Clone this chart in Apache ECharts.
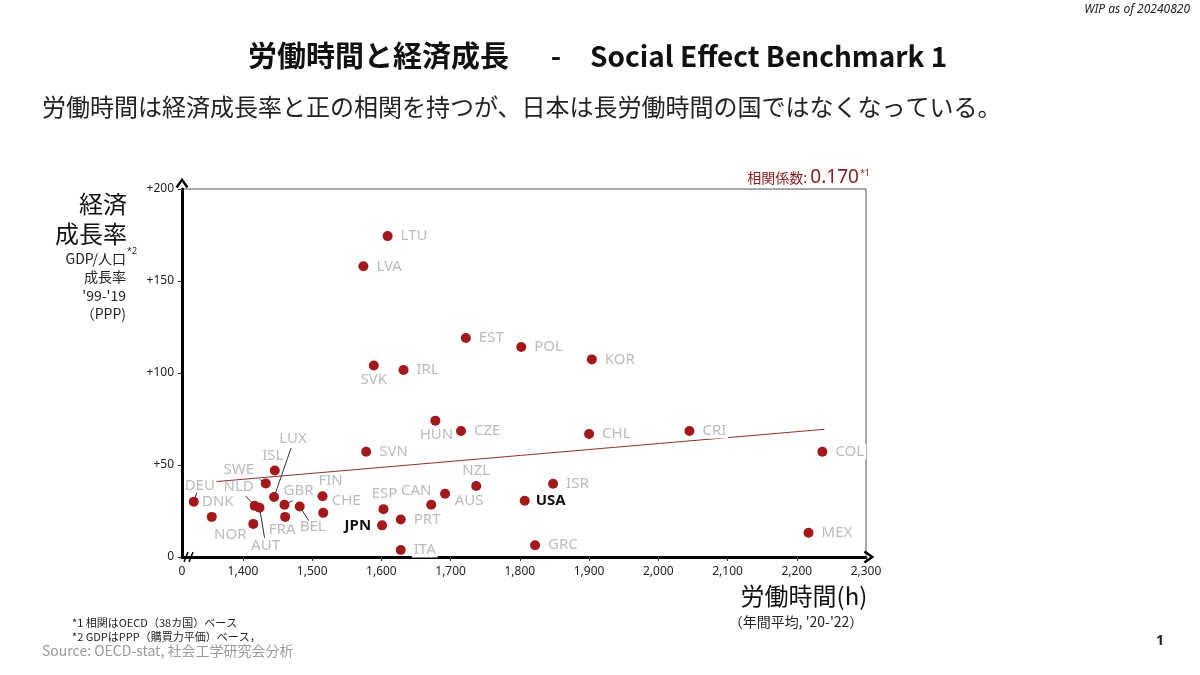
<!DOCTYPE html>
<html>
<head>
<meta charset="utf-8">
<script src="https://cdn.jsdelivr.net/npm/echarts@6.0.0/dist/echarts.min.js"></script>
<style>
  html, body { margin: 0; padding: 0; background: #fff; }
  #main { width: 1200px; height: 675px; }
</style>
</head>
<body>
<div id="main"></div>
<script>
// 国コード・労働時間(h)・経済成長率(%)
var codes  = ['DEU','DNK','NOR','NLD','AUT','SWE','ISL','LUX','GBR','FRA','BEL','FIN','CHE','SVN','ESP','JPN','PRT','ITA','HUN','CZE','CAN','AUS','NZL','USA','ISR','GRC','CHL','CRI','COL','MEX','LTU','LVA','EST','SVK','IRL','POL','KOR'];
var hours  = [1329,1355,1415,1417,1424,1433,1446,1445,1460,1461,1482,1515,1516,1578,1603,1601,1628,1628,1678,1715,1672,1692,1737,1807,1848,1822,1900,2045,2237,2217,1609,1574,1722,1589,1632,1802,1904];
var growth = [30,21.8,18,27.8,26.8,40,47,32.6,28.4,21.8,27.4,33,24,57.2,26,17.2,20.4,3.8,74.1,68.5,28.4,34.4,38.6,30.6,39.8,6.4,66.8,68.5,57.2,13.2,174.4,158,119,104.1,101.6,114.1,107.4];

// 回帰直線の両端
var trendHours  = [1362, 2240];
var trendGrowth = [41, 69.4];

// 軸目盛
var xTicks = [1312, 1400, 1500, 1600, 1700, 1800, 1900, 2000, 2100, 2200, 2300];
var yTicks = [0, 50, 100, 150, 200];

// ラベル位置（ドットからのずらし量）と引き出し線の先端
var labelPlace = {
    DEU: { off: [6, -16], lead: [3, -9] },
    DNK: { off: [6, -15] },
    NOR: { off: [-23, 11] },
    NLD: { off: [-16, -19], lead: [-9, -10] },
    AUT: { off: [6, 38], lead: [5, 30] },
    SWE: { off: [-27, -14], lead: [-6, -4] },
    ISL: { off: [-2, -15] },
    LUX: { off: [19, -58], lead: [17, -49] },
    GBR: { off: [14, -14], lead: [8, -4] },
    FRA: { off: [-3, 13] },
    BEL: { off: [13, 20], lead: [9, 14] },
    FIN: { off: [8, -16] },
    CHE: { off: [23, -12] },
    HUN: { off: [1, 14] },
    ESP: { off: [1, -15] },
    CAN: { off: [-15, -14] },
    AUS: { off: [24, 7] },
    NZL: { off: [0, -15] },
    SVK: { off: [0, 14] },
    JPN: { pos: 'left', bold: true },
    USA: { bold: true }
};

var LABEL_FONT = '"Noto Sans", "DejaVu Sans", sans-serif';
var JP_FONT = '"Noto Sans CJK JP", "Noto Sans", sans-serif';

var points = codes.map(function (c, i) {
    var p = labelPlace[c] || {};
    var label = {
        show: true,
        formatter: c,
        color: p.bold ? '#111' : '#bcbcbc',
        fontWeight: p.bold ? 'bold' : 'normal'
    };
    if (p.off) {
        label.position = 'inside';
        label.offset = p.off;
    } else {
        label.position = p.pos || 'right';
        if (!p.bold) {
            label.backgroundColor = '#fff';
            label.padding = [0, 2];
        }
    }
    return { value: [hours[i], growth[i]], label: label };
});

// 引き出し線を持つ点
var leaders = [];
codes.forEach(function (c, i) {
    if (labelPlace[c] && labelPlace[c].lead) leaders.push([hours[i], growth[i], i]);
});

function renderLeader(params, api) {
    var pt = api.coord([api.value(0), api.value(1)]);
    var lead = labelPlace[codes[api.value(2)]].lead;
    var len = Math.sqrt(lead[0] * lead[0] + lead[1] * lead[1]);
    var sx = pt[0] + lead[0] / len * 4;
    var sy = pt[1] + lead[1] / len * 4;
    return {
        type: 'line',
        shape: { x1: sx, y1: sy, x2: pt[0] + lead[0], y2: pt[1] + lead[1] },
        style: { stroke: '#333', lineWidth: 1 }
    };
}

var chart = echarts.init(document.getElementById('main'));

var option = {
    backgroundColor: '#fff',
    animation: false,
    grid: {
        left: 182,
        right: 334,
        top: 189,
        bottom: 118,
        show: true,
        borderColor: '#555',
        borderWidth: 1
    },
    xAxis: {
        type: 'value',
        min: 1312,
        max: 2300,
        splitLine: { show: false },
        axisLine: {
            show: true,
            lineStyle: { color: '#000', width: 3 },
            symbol: ['none', 'path://M5,0 L10,7 L8.4,8.2 L5,3.2 L1.6,8.2 L0,7 Z'],
            symbolSize: [13, 11],
            symbolOffset: [0, 3]
        },
        axisTick: {
            show: true,
            length: 4,
            lineStyle: { color: '#333' },
            customValues: xTicks.slice(1)
        },
        axisLabel: {
            customValues: xTicks,
            margin: 9,
            color: '#222',
            fontSize: 12,
            fontFamily: LABEL_FONT,
            formatter: function (v) {
                if (v < 1400) return '0';
                return v.toLocaleString('en-US');
            }
        }
    },
    yAxis: {
        type: 'value',
        min: 0,
        max: 200,
        interval: 50,
        splitLine: { show: false },
        axisLine: {
            show: true,
            lineStyle: { color: '#000', width: 3 },
            symbol: ['none', 'path://M5,0 L10,7 L8.4,8.2 L5,3.2 L1.6,8.2 L0,7 Z'],
            symbolSize: [13, 11],
            symbolOffset: [0, 6]
        },
        axisTick: { show: true, length: 4, lineStyle: { color: '#333' } },
        axisLabel: {
            margin: 8,
            color: '#222',
            fontSize: 12,
            fontFamily: LABEL_FONT,
            customValues: yTicks,
            formatter: function (v) { return v === 0 ? '0' : '+' + v; }
        }
    },
    series: [
        {
            type: 'line',
            data: trendHours.map(function (h, i) { return [h, trendGrowth[i]]; }),
            showSymbol: false,
            lineStyle: { color: '#8e3030', width: 1 },
            silent: true,
            z: 1
        },
        {
            type: 'custom',
            data: leaders,
            renderItem: renderLeader,
            silent: true,
            z: 2
        },
        {
            type: 'scatter',
            data: points,
            symbolSize: 10,
            itemStyle: { color: '#a3181b', opacity: 1 },
            label: {
                fontSize: 15,
                fontFamily: LABEL_FONT,
                distance: 6
            },
            z: 3
        }
    ],
    graphic: [
        {
            type: 'text', x: 1190, y: 10,
            style: { text: 'WIP as of 20240820', align: 'right', verticalAlign: 'middle',
                     fontSize: 12, fontStyle: 'italic', fontFamily: LABEL_FONT, fill: '#222' }
        },
        {
            type: 'text', x: 248, y: 56,
            style: { text: '労働時間と経済成長', align: 'left', verticalAlign: 'middle',
                     fontSize: 29, fontWeight: 'bold', fontFamily: JP_FONT, fill: '#111' }
        },
        {
            type: 'text', x: 556, y: 56,
            style: { text: '-', align: 'center', verticalAlign: 'middle',
                     fontSize: 28, fontWeight: 'bold', fontFamily: JP_FONT, fill: '#111' }
        },
        {
            type: 'text', x: 590, y: 56,
            style: { text: 'Social Effect Benchmark 1', align: 'left', verticalAlign: 'middle',
                     fontSize: 28, fontWeight: 'bold', fontFamily: JP_FONT, fill: '#111' }
        },
        {
            type: 'text', x: 42, y: 107,
            style: { text: '労働時間は経済成長率と正の相関を持つが、日本は長労働時間の国ではなくなっている。',
                     align: 'left', verticalAlign: 'middle',
                     fontSize: 24, fontFamily: JP_FONT, fill: '#222' }
        },
        // y軸の見出し
        {
            type: 'text', x: 127, y: 204,
            style: { text: '経済', align: 'right', verticalAlign: 'middle',
                     fontSize: 24, fontFamily: JP_FONT, fill: '#111' }
        },
        {
            type: 'text', x: 127, y: 234,
            style: { text: '成長率', align: 'right', verticalAlign: 'middle',
                     fontSize: 24, fontFamily: JP_FONT, fill: '#111' }
        },
        {
            type: 'text', x: 126, y: 259,
            style: { text: 'GDP/人口', align: 'right', verticalAlign: 'middle',
                     fontSize: 14, fontFamily: JP_FONT, fill: '#222' }
        },
        {
            type: 'text', x: 127, y: 251,
            style: { text: '*2', align: 'left', verticalAlign: 'middle',
                     fontSize: 9, fontFamily: LABEL_FONT, fill: '#222' }
        },
        {
            type: 'text', x: 126, y: 277,
            style: { text: '成長率', align: 'right', verticalAlign: 'middle',
                     fontSize: 14, fontFamily: JP_FONT, fill: '#222' }
        },
        {
            type: 'text', x: 126, y: 296,
            style: { text: "'99-'19", align: 'right', verticalAlign: 'middle',
                     fontSize: 14, fontFamily: JP_FONT, fill: '#222' }
        },
        {
            type: 'text', x: 126, y: 314,
            style: { text: '（PPP)', align: 'right', verticalAlign: 'middle',
                     fontSize: 14, fontFamily: JP_FONT, fill: '#222' }
        },
        // 相関係数
        {
            type: 'text', x: 870, y: 178,
            style: {
                text: '{a|相関係数: }{b|0.170}{c|*1}',
                align: 'right', verticalAlign: 'middle',
                rich: {
                    a: { fontSize: 14, fontFamily: JP_FONT, fill: '#8b1c1c', color: '#8b1c1c' },
                    b: { fontSize: 19, fontFamily: LABEL_FONT, fill: '#8b1c1c', color: '#8b1c1c' },
                    c: { fontSize: 9, fontFamily: LABEL_FONT, fill: '#8b1c1c', color: '#8b1c1c', verticalAlign: 'top', padding: [0, 0, 10, 1] }
                }
            }
        },
        // x軸の見出し
        {
            type: 'text', x: 804, y: 596,
            style: { text: '労働時間(h)', align: 'center', verticalAlign: 'middle',
                     fontSize: 24, fontFamily: JP_FONT, fill: '#111' }
        },
        {
            type: 'text', x: 796, y: 622,
            style: { text: "（年間平均, '20-'22）", align: 'center', verticalAlign: 'middle',
                     fontSize: 14, fontFamily: JP_FONT, fill: '#222' }
        },
        // 軸の省略記号
        { type: 'line', shape: { x1: 184, y1: 562, x2: 188, y2: 552 }, style: { stroke: '#000', lineWidth: 1.5 }, z: 100 },
        { type: 'line', shape: { x1: 189, y1: 562, x2: 193, y2: 552 }, style: { stroke: '#000', lineWidth: 1.5 }, z: 100 },
        // 注記
        {
            type: 'text', x: 72, y: 623,
            style: { text: '*1 相関はOECD（38カ国）ベース', align: 'left', verticalAlign: 'middle',
                     fontSize: 11, fontFamily: JP_FONT, fill: '#222' }
        },
        {
            type: 'text', x: 72, y: 637,
            style: { text: '*2 GDPはPPP（購買力平価）ベース，', align: 'left', verticalAlign: 'middle',
                     fontSize: 11, fontFamily: JP_FONT, fill: '#222' }
        },
        {
            type: 'text', x: 42, y: 651,
            style: { text: 'Source: OECD-stat, 社会工学研究会分析', align: 'left', verticalAlign: 'middle',
                     fontSize: 14, fontFamily: JP_FONT, fill: '#9a9a9a' }
        },
        {
            type: 'text', x: 1160, y: 641,
            style: { text: '1', align: 'center', verticalAlign: 'middle',
                     fontSize: 14, fontWeight: 'bold', fontFamily: LABEL_FONT, fill: '#222' }
        }
    ]
};

chart.setOption(option);
</script>
</body>
</html>
